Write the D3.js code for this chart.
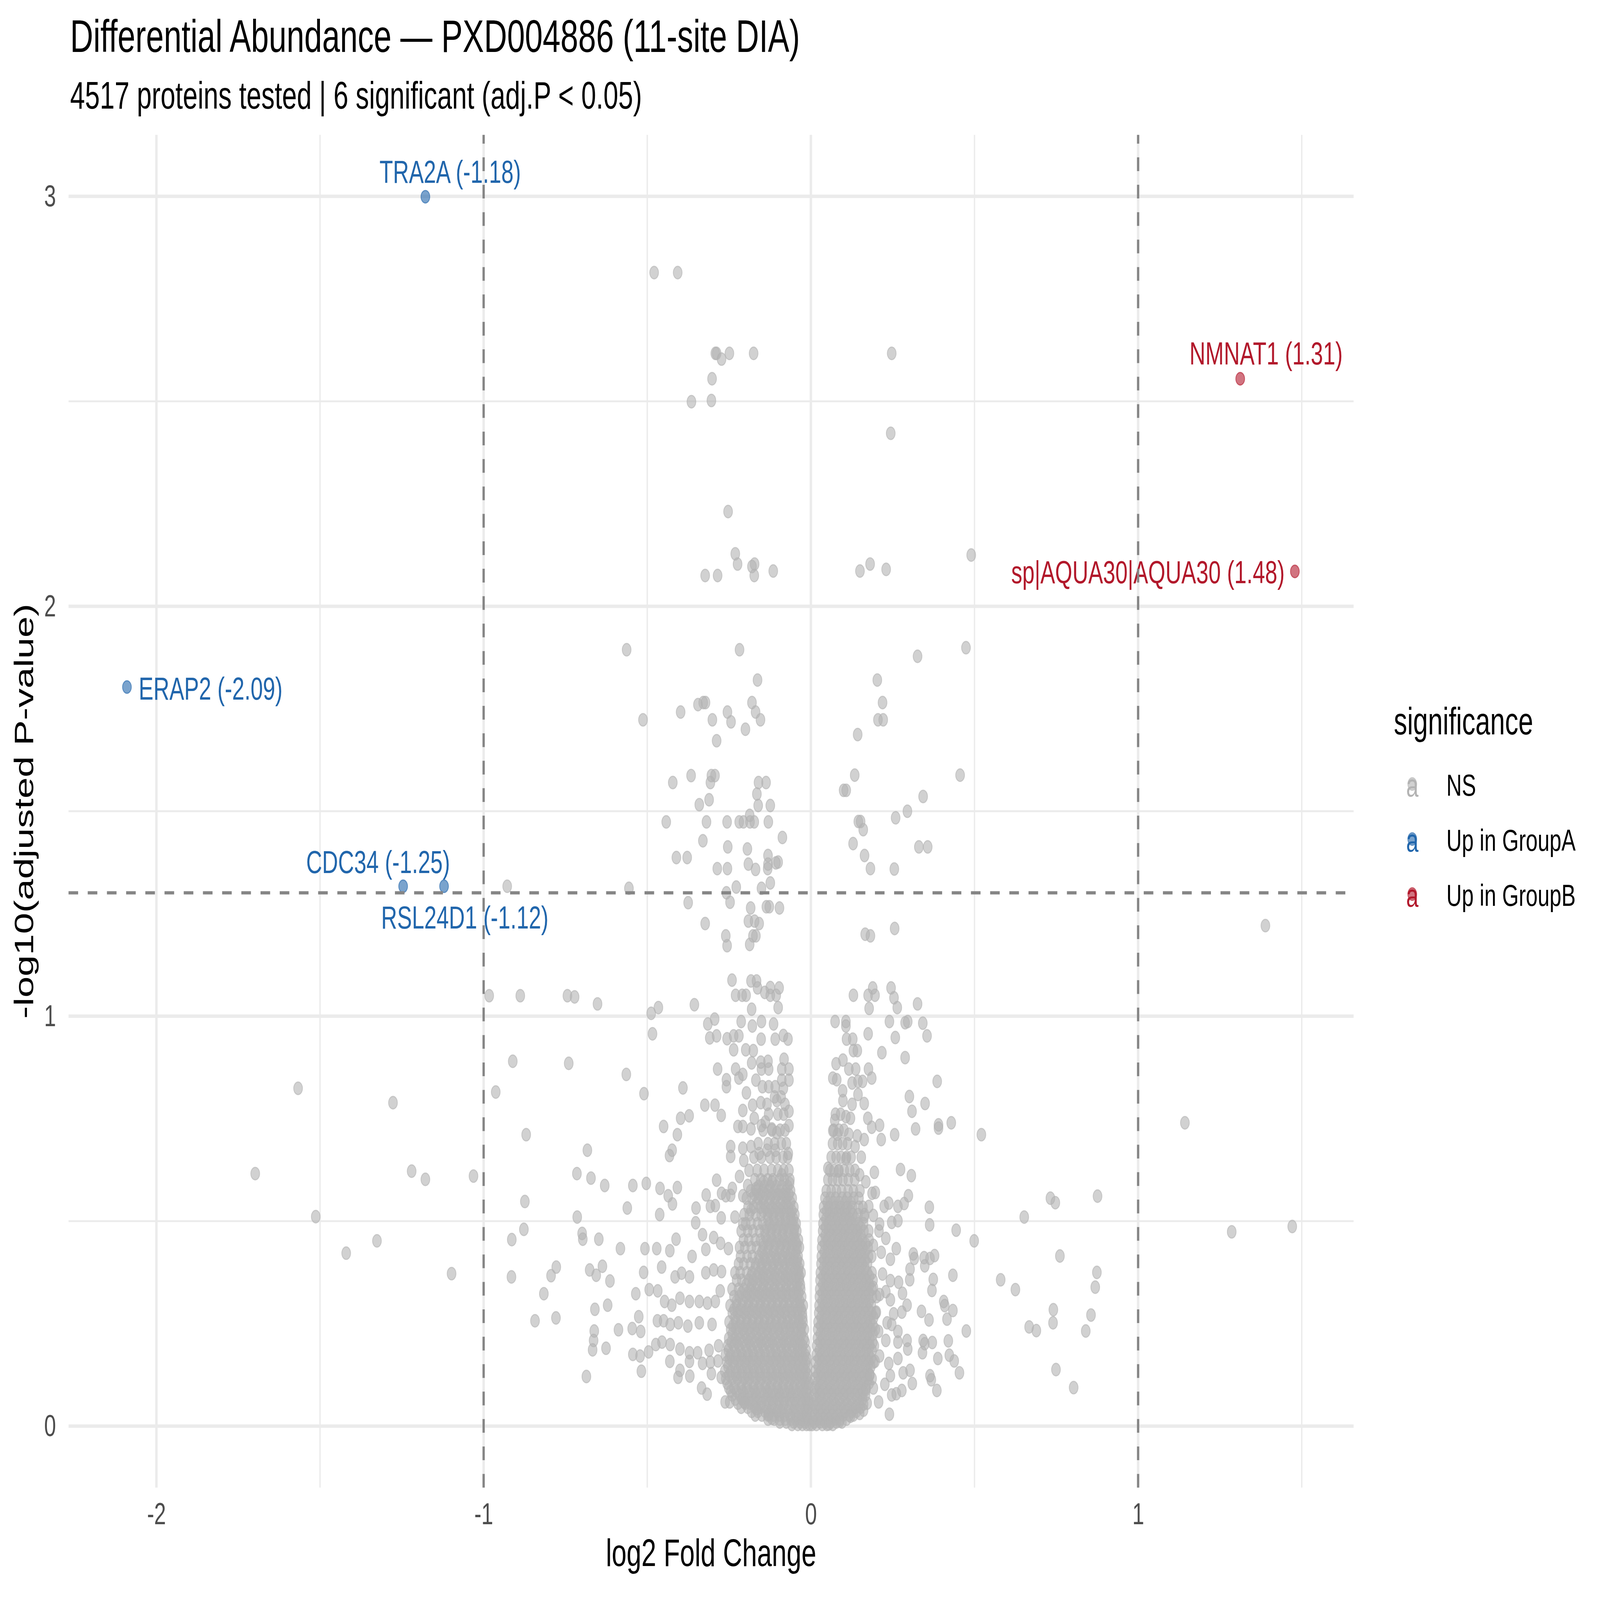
<!DOCTYPE html>
<html lang="en">
	<head>
		<meta charset="utf-8">
		<title>Differential Abundance volcano</title>
		<script type="text/javascript" src="https://cdn.jsdelivr.net/npm/d3@7"></script>
		<style type="text/css">
			html, body { margin: 0; padding: 0; background: #ffffff; overflow: hidden; }
			svg { display: block; }
			text { font-family: "Liberation Sans", Arial, sans-serif; }
		</style>
	</head>

	<body>
		<script type="text/javascript">
			/* significant proteins: name, log2FC, -log10(adj.P), group */
			var sigGenes = ["TRA2A", "ERAP2", "CDC34", "RSL24D1", "NMNAT1", "sp|AQUA30|AQUA30"];
			var sigFC = [-1.178, -2.090, -1.246, -1.121, 1.312, 1.479];
			var sigP = [2.999, 1.803, 1.317, 1.317, 2.555, 2.085];
			var sigGroup = ["Up in GroupA", "Up in GroupA", "Up in GroupA", "Up in GroupA", "Up in GroupB", "Up in GroupB"];

			/* legend categories */
			var categories = ["NS", "Up in GroupA", "Up in GroupB"];

			/* axis ticks */
			var xTicks = [-2, -1, 0, 1];
			var xMinor = [-1.5, -0.5, 0.5, 1.5];
			var yTicks = [0, 1, 2, 3];
			var yMinor = [0.5, 1.5, 2.5];

			/* non-significant proteins: [log2FC, -log10(adj.P)] */
			var nsPoints = [
				[-0.479,2.814],[-0.407,2.814],
				[-0.292,2.617],[-0.288,2.617],[-0.273,2.603],[-0.249,2.617],[-0.175,2.617],[0.247,2.617],
				[-0.302,2.555],[-0.365,2.499],[-0.304,2.502],[0.244,2.422],[-0.253,2.231],
				[-0.231,2.128],[-0.224,2.103],[-0.172,2.103],[-0.180,2.097],[-0.173,2.075],[-0.323,2.075],[-0.285,2.075],[-0.115,2.086],
				[0.150,2.086],[0.181,2.103],[0.230,2.090],[0.490,2.125],
				[-0.563,1.894],[-0.218,1.894],[-0.163,1.820],[0.474,1.899],[0.326,1.878],[0.203,1.820],[0.219,1.765],[0.205,1.723],[0.221,1.723],[0.143,1.687],
				[-0.180,1.765],[-0.169,1.742],[-0.154,1.723],[-0.200,1.700],[-0.255,1.742],[-0.244,1.718],[-0.301,1.723],[-0.288,1.672],
				[-0.345,1.760],[-0.329,1.765],[-0.322,1.765],[-0.398,1.742],[-0.513,1.723],
				[-0.422,1.570],[-0.366,1.587],[-0.304,1.587],[-0.293,1.587],[-0.307,1.570],[-0.311,1.528],[-0.341,1.516],
				[-0.160,1.570],[-0.137,1.570],[-0.165,1.542],[-0.161,1.514],[-0.124,1.514],[-0.187,1.490],
				[-0.442,1.474],[-0.319,1.474],[-0.256,1.474],[-0.219,1.474],[-0.206,1.474],[-0.186,1.474],[-0.173,1.474],[-0.130,1.474],
				[-0.087,1.436],[-0.330,1.428],[-0.254,1.413],[-0.194,1.408],[-0.411,1.387],[-0.378,1.387],[-0.191,1.371],
				[-0.131,1.392],[-0.131,1.371],[-0.132,1.360],[-0.107,1.374],[-0.100,1.376],[-0.286,1.360],[-0.255,1.360],[-0.169,1.358],
				[0.134,1.588],[0.100,1.551],[0.108,1.551],[0.456,1.588],[0.343,1.536],[0.295,1.500],[0.259,1.484],[0.145,1.475],[0.152,1.475],
				[0.160,1.455],[0.129,1.421],[0.164,1.392],[0.330,1.413],[0.357,1.413],[0.182,1.360],[0.255,1.359],
				[-0.556,1.312],[-0.228,1.315],[-0.151,1.312],[-0.124,1.325],[-0.258,1.301],[-0.375,1.277],[-0.247,1.278],[-0.928,1.317],
				[-0.184,1.264],[-0.136,1.267],[-0.127,1.267],[-0.096,1.264],[-0.323,1.226],[-0.191,1.232],[-0.172,1.232],[-0.158,1.226],
				[-0.260,1.196],[-0.177,1.196],[-0.168,1.196],[-0.256,1.172],[-0.187,1.175],[0.166,1.200],[0.182,1.196],[0.256,1.214],
				[-0.983,1.050],[-0.888,1.050],[-0.744,1.050],[-0.911,0.890],[-0.740,0.885],[-0.963,0.815],[-0.870,0.711],
				[-1.567,0.824],[-1.277,0.789],[-1.698,0.616],[-1.220,0.622],[-1.178,0.602],[-1.031,0.610],[-1.513,0.511],[-1.326,0.452],
				[-1.420,0.422],[-1.098,0.372],
				[-0.874,0.548],[-0.877,0.480],[-0.914,0.455],[-0.915,0.364],[-0.778,0.388],[-0.794,0.367],[-0.816,0.323],[-0.843,0.257],[-0.779,0.264],
				[1.389,1.221],[1.143,0.740],[1.286,0.474],[1.471,0.487],[0.732,0.556],[0.747,0.545],[0.876,0.561],[0.761,0.415],[0.874,0.375],
				[0.869,0.339],[0.741,0.284],[0.740,0.252],[0.856,0.271],[0.840,0.232],[0.749,0.138],[0.803,0.094],
				[-0.722,1.047],[-0.652,1.030],[-0.488,1.007],[-0.466,1.021],[-0.356,1.028],[-0.484,0.957],
				[-0.241,1.088],[-0.183,1.086],[-0.166,1.086],[-0.163,1.069],[-0.124,1.070],[-0.097,1.069],[-0.230,1.051],[-0.210,1.051],
				[-0.198,1.051],[-0.141,1.058],[-0.124,1.051],[-0.106,1.051],[-0.100,1.021],[-0.181,1.017],
				[-0.315,0.981],[-0.294,0.993],[-0.213,0.987],[-0.179,0.976],[-0.151,0.987],[-0.114,0.981],
				[-0.309,0.947],[-0.288,0.952],[-0.256,0.945],[-0.236,0.952],[-0.220,0.952],[-0.152,0.944],[-0.109,0.944],[-0.084,0.953],[-0.070,0.944],
				[-0.236,0.918],[-0.199,0.918],[-0.176,0.916],[-0.181,0.886],[-0.153,0.888],[-0.131,0.890],[-0.082,0.895],
				[-0.285,0.871],[-0.230,0.871],[-0.208,0.858],[-0.220,0.849],[-0.258,0.845],[-0.258,0.828],[-0.151,0.871],[-0.129,0.871],
				[-0.089,0.871],[-0.067,0.871],[-0.168,0.844],[-0.089,0.844],[-0.067,0.844],
				[-0.564,0.858],[-0.510,0.811],[-0.391,0.825],[-0.197,0.813],[-0.148,0.828],[-0.129,0.828],[-0.109,0.828],[-0.084,0.824],
				[-0.324,0.783],[-0.293,0.783],[-0.274,0.758],[-0.208,0.770],[-0.178,0.783],[-0.153,0.789],[-0.134,0.785],[-0.104,0.794],
				[-0.079,0.785],[-0.067,0.768],
				[-0.450,0.731],[-0.398,0.751],[-0.372,0.757],[-0.408,0.711],[-0.223,0.731],[-0.208,0.731],[-0.173,0.751],[-0.183,0.725],
				[-0.151,0.733],[-0.139,0.742],[-0.119,0.725],[-0.104,0.716],[-0.067,0.733],
				[-0.683,0.673],[-0.424,0.673],[-0.432,0.660],[-0.245,0.682],[-0.245,0.658],[-0.205,0.648],[-0.208,0.678],[-0.183,0.682],
				[-0.158,0.665],[-0.134,0.673],[-0.109,0.673],[-0.069,0.665],
				[-0.715,0.616],[-0.672,0.605],[-0.630,0.587],[-0.544,0.587],[-0.503,0.592],[-0.461,0.580],[-0.436,0.562],[-0.408,0.582],
				[-0.423,0.542],[-0.561,0.532],[-0.462,0.516],
				[-0.288,0.600],[-0.273,0.568],[-0.260,0.562],[-0.245,0.563],[-0.240,0.580],[-0.218,0.609],[-0.208,0.562],[-0.193,0.587],
				[-0.168,0.579],[-0.144,0.596],[-0.119,0.596],[-0.089,0.613],[-0.065,0.592],
				[-0.320,0.564],[-0.307,0.536],[-0.292,0.538],[-0.274,0.508],[-0.351,0.532],[-0.352,0.496],[-0.232,0.510],[-0.208,0.493],[-0.183,0.527],
				[-0.714,0.510],[-0.699,0.470],[-0.697,0.456],[-0.648,0.456],[-0.582,0.433],[-0.507,0.433],[-0.471,0.433],[-0.431,0.428],
				[-0.412,0.456],[-0.331,0.467],[-0.297,0.460],[-0.276,0.446],[-0.363,0.414],[-0.321,0.431],[-0.252,0.433],
				[-0.676,0.381],[-0.656,0.368],[-0.637,0.390],[-0.614,0.354],[-0.511,0.375],[-0.456,0.388],[-0.415,0.364],[-0.395,0.373],
				[-0.371,0.364],[-0.321,0.374],[-0.297,0.381],[-0.273,0.377],
				[-0.535,0.323],[-0.494,0.333],[-0.468,0.330],[-0.447,0.304],[-0.425,0.295],[-0.400,0.312],[-0.371,0.304],[-0.341,0.304],
				[-0.316,0.300],[-0.292,0.304],[-0.277,0.330],
				[-0.660,0.285],[-0.621,0.295],[-0.526,0.267],[-0.469,0.257],[-0.450,0.257],[-0.430,0.248],[-0.405,0.252],[-0.376,0.244],
				[-0.341,0.252],[-0.302,0.248],
				[-0.662,0.232],[-0.588,0.235],[-0.546,0.238],[-0.520,0.231],[-0.664,0.209],[-0.667,0.186],[-0.626,0.190],[-0.544,0.175],
				[-0.522,0.171],[-0.496,0.181],[-0.474,0.199],[-0.455,0.205],[-0.430,0.199],[-0.400,0.188],[-0.371,0.179],[-0.346,0.179],
				[-0.311,0.185],[-0.282,0.196],
				[-0.431,0.158],[-0.400,0.136],[-0.371,0.158],[-0.331,0.153],[-0.307,0.156],[-0.284,0.159],
				[-0.686,0.121],[-0.518,0.134],[-0.406,0.119],[-0.370,0.122],[-0.304,0.128],[-0.274,0.119],[-0.334,0.093],[-0.317,0.078],
				[-0.262,0.059],[-0.248,0.059],[-0.204,0.059],[-0.166,0.042],[-0.129,0.029],[-0.119,0.019],
				[0.130,1.051],[0.175,1.051],[0.189,1.069],[0.196,1.051],[0.178,1.019],[0.245,1.069],[0.254,1.045],[0.264,1.021],[0.326,1.030],
				[0.074,0.987],[0.107,0.987],[0.107,0.976],[0.175,0.957],[0.240,0.987],[0.288,0.984],[0.296,0.987],[0.342,0.983],[0.355,0.952],[0.258,0.948],
				[0.109,0.944],[0.128,0.944],[0.130,0.916],[0.142,0.916],[0.217,0.911],[0.288,0.899],[0.077,0.884],[0.098,0.893],[0.116,0.871],
				[0.137,0.871],[0.176,0.871],
				[0.067,0.849],[0.079,0.845],[0.186,0.849],[0.126,0.837],[0.144,0.841],[0.158,0.841],[0.386,0.841],[0.097,0.818],[0.144,0.809],
				[0.163,0.787],[0.098,0.794],[0.126,0.785],[0.301,0.804],[0.349,0.787],[0.309,0.768],
				[0.073,0.746],[0.107,0.755],[0.121,0.751],[0.174,0.751],[0.186,0.729],[0.210,0.734],[0.320,0.725],[0.390,0.735],[0.390,0.727],
				[0.429,0.740],[0.521,0.711],[0.256,0.711],
				[0.067,0.721],[0.081,0.712],[0.116,0.712],[0.142,0.708],[0.163,0.699],[0.215,0.699],[0.135,0.682],[0.154,0.656],[0.107,0.652],
				[0.052,0.629],[0.274,0.626],[0.307,0.611],[0.194,0.619],[0.084,0.622],[0.149,0.613],[0.168,0.596],[0.187,0.568],[0.197,0.570],
				[0.285,0.543],[0.298,0.562],[0.224,0.536],[0.238,0.544],[0.266,0.536],[0.362,0.534],[0.363,0.491],[0.444,0.478],[0.499,0.452],[0.652,0.510],
				[0.177,0.536],[0.163,0.510],[0.191,0.514],[0.210,0.493],[0.247,0.497],[0.266,0.501],[0.208,0.476],[0.229,0.458],[0.191,0.441],
				[0.261,0.433],[0.215,0.424],[0.243,0.407],[0.313,0.420],[0.316,0.409],[0.346,0.411],[0.364,0.409],[0.378,0.416],[0.348,0.391],
				[0.303,0.383],[0.302,0.357],[0.219,0.371],[0.243,0.355],[0.268,0.351],[0.374,0.358],[0.370,0.331],[0.434,0.368],[0.580,0.357],[0.625,0.333],
				[0.191,0.338],[0.210,0.321],[0.229,0.328],[0.243,0.308],[0.280,0.324],[0.294,0.295],[0.406,0.304],[0.409,0.294],[0.434,0.282],
				[0.338,0.280],[0.361,0.259],[0.416,0.261],[0.278,0.278],[0.253,0.274],[0.200,0.278],[0.233,0.252],[0.247,0.248],[0.266,0.231],
				[0.207,0.231],[0.475,0.232],[0.667,0.242],[0.689,0.233],
				[0.229,0.209],[0.266,0.205],[0.294,0.209],[0.296,0.188],[0.343,0.209],[0.348,0.201],[0.371,0.204],[0.420,0.208],[0.341,0.179],
				[0.266,0.165],[0.388,0.165],[0.423,0.173],[0.438,0.159],[0.196,0.158],[0.210,0.171],[0.238,0.153],
				[0.454,0.130],[0.282,0.130],[0.303,0.136],[0.364,0.123],[0.368,0.113],[0.385,0.087],[0.310,0.104],[0.278,0.087],[0.243,0.123],
				[0.226,0.102],[0.247,0.076],[0.261,0.079],[0.180,0.125],[0.191,0.093],[0.168,0.089],[0.172,0.056],[0.207,0.059],[0.240,0.029],
				[0.161,0.039],[0.149,0.031],[0.121,0.024],[0.088,0.012],[0.055,0.005]
			];

			/* the packed core of the volcano, read row by row: [-log10(adj.P), [log2FC ...]] */
			var coreLeftRows = [
				[0.004, [-0.058,-0.040,-0.026,-0.013,-0.004]],
				[0.017, [-0.131,-0.112,-0.095,-0.079,-0.061,-0.047,-0.030,-0.019,-0.008]],
				[0.036, [-0.181,-0.162,-0.140,-0.125,-0.104,-0.091,-0.072,-0.053,-0.039,-0.021,-0.010]],
				[0.056, [-0.223,-0.201,-0.186,-0.166,-0.150,-0.129,-0.115,-0.096,-0.081,-0.060,-0.046,-0.027,-0.014,-0.004]],
				[0.076, [-0.240,-0.218,-0.202,-0.181,-0.166,-0.145,-0.129,-0.109,-0.094,-0.074,-0.059,-0.041,-0.023,-0.011]],
				[0.094, [-0.251,-0.235,-0.213,-0.197,-0.176,-0.161,-0.140,-0.125,-0.104,-0.088,-0.068,-0.053,-0.034,-0.020,-0.008]],
				[0.116, [-0.260,-0.240,-0.224,-0.203,-0.188,-0.167,-0.151,-0.131,-0.115,-0.095,-0.079,-0.060,-0.044,-0.026,-0.013]],
				[0.134, [-0.263,-0.245,-0.225,-0.209,-0.189,-0.173,-0.154,-0.138,-0.118,-0.102,-0.082,-0.067,-0.048,-0.033,-0.016]],
				[0.156, [-0.257,-0.239,-0.223,-0.203,-0.187,-0.167,-0.151,-0.131,-0.115,-0.095,-0.080,-0.060,-0.045,-0.027,-0.015]],
				[0.174, [-0.261,-0.245,-0.225,-0.210,-0.190,-0.174,-0.154,-0.138,-0.118,-0.102,-0.083,-0.068,-0.049,-0.035,-0.018]],
				[0.196, [-0.254,-0.236,-0.220,-0.200,-0.184,-0.164,-0.148,-0.128,-0.112,-0.092,-0.077,-0.057,-0.042,-0.025]],
				[0.214, [-0.251,-0.231,-0.215,-0.195,-0.179,-0.159,-0.143,-0.123,-0.107,-0.087,-0.071,-0.052,-0.037,-0.021]],
				[0.236, [-0.245,-0.229,-0.209,-0.193,-0.173,-0.157,-0.137,-0.121,-0.101,-0.085,-0.065,-0.050,-0.031,-0.020]],
				[0.254, [-0.250,-0.230,-0.214,-0.194,-0.178,-0.158,-0.142,-0.122,-0.106,-0.086,-0.070,-0.051,-0.037,-0.024]],
				[0.276, [-0.240,-0.224,-0.204,-0.188,-0.168,-0.152,-0.132,-0.116,-0.096,-0.080,-0.060,-0.045,-0.026]],
				[0.294, [-0.247,-0.227,-0.211,-0.191,-0.175,-0.155,-0.139,-0.119,-0.103,-0.083,-0.067,-0.048,-0.034,-0.023]],
				[0.316, [-0.235,-0.219,-0.199,-0.183,-0.163,-0.147,-0.127,-0.111,-0.091,-0.075,-0.056,-0.041,-0.028]],
				[0.334, [-0.241,-0.221,-0.205,-0.185,-0.169,-0.149,-0.133,-0.113,-0.097,-0.077,-0.061,-0.043,-0.031]],
				[0.356, [-0.227,-0.211,-0.191,-0.175,-0.155,-0.139,-0.119,-0.103,-0.083,-0.068,-0.049,-0.035]],
				[0.374, [-0.232,-0.216,-0.196,-0.180,-0.160,-0.144,-0.124,-0.108,-0.088,-0.072,-0.053,-0.039,-0.030]],
				[0.396, [-0.221,-0.205,-0.185,-0.169,-0.149,-0.133,-0.113,-0.097,-0.077,-0.062,-0.044,-0.034]],
				[0.414, [-0.215,-0.195,-0.179,-0.159,-0.143,-0.123,-0.107,-0.087,-0.071,-0.052,-0.039]],
				[0.436, [-0.218,-0.202,-0.182,-0.166,-0.146,-0.130,-0.110,-0.094,-0.074,-0.059,-0.042,-0.035]],
				[0.454, [-0.206,-0.190,-0.170,-0.154,-0.134,-0.118,-0.098,-0.082,-0.063,-0.048,-0.038]],
				[0.476, [-0.213,-0.193,-0.177,-0.157,-0.141,-0.121,-0.105,-0.085,-0.070,-0.051,-0.043]],
				[0.494, [-0.199,-0.183,-0.163,-0.147,-0.127,-0.111,-0.091,-0.076,-0.057,-0.045]],
				[0.516, [-0.204,-0.188,-0.168,-0.152,-0.132,-0.116,-0.096,-0.081,-0.062,-0.049]],
				[0.534, [-0.192,-0.175,-0.155,-0.139,-0.119,-0.103,-0.084,-0.069,-0.052]],
				[0.556, [-0.197,-0.180,-0.160,-0.144,-0.124,-0.109,-0.089,-0.074,-0.057]],
				[0.574, [-0.184,-0.167,-0.147,-0.131,-0.112,-0.096,-0.077,-0.062]],
				[0.601, [-0.171,-0.153,-0.132,-0.116,-0.096,-0.081,-0.064]],
				[0.624, [-0.189,-0.164,-0.143,-0.120,-0.101,-0.083,-0.067]],
				[0.656, [-0.174,-0.151,-0.125,-0.106,-0.085,-0.071]],
				[0.689, [-0.161,-0.131,-0.111,-0.090,-0.075]],
				[0.722, [-0.146,-0.119,-0.094,-0.079]],
				[0.761, [-0.129,-0.101,-0.083]],
				[0.803, [-0.111,-0.091]]
			];
			var coreLeftFill = [
				[0.010, [-0.095,-0.075,-0.052,-0.033,-0.017]],
				[0.027, [-0.170,-0.150,-0.131,-0.114,-0.097,-0.080,-0.064,-0.045,-0.027,-0.012]],
				[0.046, [-0.213,-0.193,-0.172,-0.153,-0.137,-0.119,-0.101,-0.085,-0.067,-0.049,-0.033,-0.018,-0.007]],
				[0.066, [-0.231,-0.211,-0.192,-0.174,-0.156,-0.138,-0.120,-0.102,-0.084,-0.066,-0.050,-0.032,-0.017,-0.006]],
				[0.085, [-0.245,-0.227,-0.208,-0.188,-0.171,-0.152,-0.133,-0.116,-0.098,-0.080,-0.063,-0.045,-0.028,-0.014]],
				[0.105, [-0.256,-0.231,-0.212,-0.193,-0.174,-0.156,-0.137,-0.119,-0.101,-0.084,-0.066,-0.049,-0.032,-0.017,-0.006]],
				[0.125, [-0.250,-0.231,-0.213,-0.194,-0.177,-0.158,-0.140,-0.122,-0.105,-0.087,-0.070,-0.053,-0.036,-0.021,-0.009]],
				[0.145, [-0.253,-0.233,-0.214,-0.196,-0.178,-0.160,-0.142,-0.124,-0.106,-0.089,-0.072,-0.055,-0.038,-0.022,-0.010]],
				[0.165, [-0.249,-0.231,-0.213,-0.195,-0.177,-0.159,-0.141,-0.123,-0.106,-0.089,-0.072,-0.055,-0.039,-0.024,-0.012]],
				[0.185, [-0.252,-0.232,-0.214,-0.196,-0.178,-0.160,-0.142,-0.124,-0.107,-0.090,-0.073,-0.056,-0.040,-0.027,-0.015]],
				[0.205, [-0.243,-0.226,-0.207,-0.189,-0.171,-0.153,-0.135,-0.118,-0.100,-0.083,-0.066,-0.049,-0.033,-0.018]],
				[0.225, [-0.240,-0.221,-0.203,-0.185,-0.167,-0.149,-0.131,-0.113,-0.095,-0.078,-0.061,-0.044,-0.029]],
				[0.245, [-0.238,-0.219,-0.201,-0.183,-0.165,-0.147,-0.129,-0.111,-0.094,-0.077,-0.060,-0.043,-0.028]],
				[0.265, [-0.232,-0.214,-0.196,-0.178,-0.160,-0.142,-0.124,-0.107,-0.089,-0.072,-0.055,-0.038,-0.025]],
				[0.285, [-0.235,-0.216,-0.198,-0.180,-0.162,-0.144,-0.126,-0.109,-0.091,-0.074,-0.057,-0.040,-0.029]],
				[0.305, [-0.227,-0.208,-0.190,-0.172,-0.154,-0.137,-0.119,-0.101,-0.084,-0.066,-0.049,-0.034]],
				[0.325, [-0.212,-0.193,-0.175,-0.157,-0.139,-0.122,-0.104,-0.087,-0.069,-0.052,-0.037]],
				[0.345, [-0.198,-0.181,-0.163,-0.145,-0.127,-0.110,-0.092,-0.075,-0.058,-0.042,-0.032]],
				[0.365, [-0.183,-0.165,-0.147,-0.130,-0.112,-0.094,-0.077,-0.060,-0.045,-0.035]],
				[0.385, [-0.170,-0.152,-0.135,-0.117,-0.099,-0.082,-0.065,-0.049,-0.037]],
				[0.405, [-0.158,-0.140,-0.122,-0.104,-0.087,-0.070,-0.054,-0.041]],
				[0.425, [-0.150,-0.132,-0.114,-0.096,-0.079,-0.062,-0.046]],
				[0.445, [-0.145,-0.126,-0.108,-0.090,-0.072,-0.055,-0.044]],
				[0.465, [-0.140,-0.122,-0.104,-0.087,-0.069,-0.052]],
				[0.485, [-0.136,-0.118,-0.100,-0.083,-0.066,-0.050]],
				[0.505, [-0.131,-0.113,-0.095,-0.078,-0.061,-0.053]],
				[0.525, [-0.145,-0.127,-0.109,-0.091,-0.074,-0.058]],
				[0.545, [-0.165,-0.146,-0.128,-0.110,-0.093,-0.076,-0.062]],
				[0.565, [-0.172,-0.155,-0.137,-0.119,-0.101,-0.084,-0.067]],
				[0.585, [-0.160,-0.142,-0.124,-0.106,-0.089,-0.071]]
			];
			var coreRightRows = [
				[0.004, [0.004,0.017,0.035,0.049,0.067]],
				[0.017, [0.007,0.021,0.039,0.054,0.073,0.089,0.109]],
				[0.036, [0.004,0.021,0.036,0.055,0.070,0.090,0.105,0.125,0.139]],
				[0.054, [0.007,0.022,0.041,0.057,0.076,0.092,0.112,0.128,0.148,0.161]],
				[0.076, [0.009,0.026,0.042,0.062,0.078,0.098,0.114,0.134,0.150,0.167]],
				[0.094, [0.011,0.026,0.046,0.062,0.082,0.098,0.118,0.134,0.154,0.169]],
				[0.116, [0.012,0.030,0.046,0.066,0.082,0.102,0.118,0.138,0.154,0.174,0.187]],
				[0.134, [0.014,0.030,0.050,0.066,0.086,0.102,0.122,0.138,0.158,0.174]],
				[0.156, [0.015,0.033,0.049,0.069,0.085,0.105,0.121,0.141,0.157,0.177,0.191]],
				[0.174, [0.017,0.033,0.053,0.069,0.089,0.105,0.125,0.141,0.161,0.177]],
				[0.196, [0.018,0.036,0.052,0.072,0.088,0.108,0.124,0.144,0.160,0.180,0.194]],
				[0.214, [0.020,0.036,0.056,0.072,0.092,0.108,0.128,0.144,0.164,0.180]],
				[0.236, [0.021,0.039,0.055,0.075,0.091,0.111,0.127,0.147,0.163,0.183,0.197]],
				[0.254, [0.022,0.038,0.058,0.074,0.094,0.110,0.130,0.146,0.166,0.182]],
				[0.276, [0.024,0.042,0.058,0.078,0.094,0.114,0.130,0.150,0.166,0.186,0.198]],
				[0.294, [0.025,0.041,0.061,0.077,0.097,0.113,0.133,0.149,0.169,0.185]],
				[0.316, [0.026,0.044,0.060,0.080,0.096,0.116,0.132,0.152,0.168,0.188,0.201]],
				[0.334, [0.027,0.043,0.063,0.079,0.099,0.115,0.135,0.151,0.171,0.187]],
				[0.356, [0.028,0.046,0.062,0.082,0.098,0.118,0.134,0.154,0.170,0.190]],
				[0.374, [0.029,0.045,0.065,0.081,0.101,0.117,0.137,0.153,0.173,0.187]],
				[0.396, [0.031,0.049,0.065,0.085,0.101,0.121,0.137,0.157,0.173]],
				[0.414, [0.032,0.048,0.068,0.084,0.104,0.120,0.140,0.156,0.176,0.186]],
				[0.436, [0.033,0.051,0.067,0.087,0.103,0.123,0.139,0.159,0.175]],
				[0.454, [0.034,0.050,0.070,0.086,0.106,0.122,0.142,0.158,0.178]],
				[0.476, [0.036,0.054,0.070,0.090,0.106,0.126,0.142,0.162,0.177]],
				[0.494, [0.037,0.053,0.073,0.089,0.109,0.125,0.145,0.161]],
				[0.516, [0.038,0.056,0.072,0.092,0.108,0.128,0.144,0.164]],
				[0.534, [0.039,0.055,0.075,0.091,0.111,0.127,0.147,0.159]],
				[0.556, [0.043,0.059,0.075,0.095,0.111,0.131,0.147]],
				[0.574, [0.047,0.062,0.078,0.094,0.114,0.130,0.150]],
				[0.601, [0.052,0.066,0.082,0.098,0.114,0.134]],
				[0.624, [0.058,0.071,0.086,0.102,0.119,0.135]],
				[0.656, [0.062,0.077,0.092,0.109,0.123]],
				[0.689, [0.066,0.082,0.097,0.112]],
				[0.722, [0.070,0.086,0.101]],
				[0.761, [0.075,0.091]]
			];
			var coreRightFill = [
				[0.010, [0.010,0.028,0.043,0.060,0.078,0.095]],
				[0.027, [0.012,0.029,0.046,0.063,0.081,0.099,0.117,0.130]],
				[0.046, [0.014,0.031,0.048,0.066,0.083,0.101,0.119,0.137,0.152]],
				[0.066, [0.016,0.033,0.051,0.069,0.087,0.105,0.123,0.141,0.158]],
				[0.085, [0.018,0.035,0.053,0.071,0.089,0.107,0.125,0.143,0.160]],
				[0.105, [0.019,0.037,0.055,0.073,0.091,0.109,0.127,0.145,0.162,0.178]],
				[0.125, [0.021,0.039,0.057,0.075,0.093,0.111,0.129,0.147,0.165,0.180]],
				[0.145, [0.023,0.041,0.059,0.077,0.095,0.113,0.131,0.149,0.167,0.183]],
				[0.165, [0.025,0.043,0.061,0.079,0.097,0.115,0.133,0.151,0.169,0.184]],
				[0.185, [0.026,0.044,0.062,0.080,0.098,0.116,0.134,0.152,0.170,0.187]],
				[0.205, [0.028,0.046,0.064,0.082,0.100,0.118,0.136,0.154,0.172,0.189]],
				[0.225, [0.029,0.047,0.065,0.083,0.101,0.119,0.137,0.155,0.173,0.190]],
				[0.245, [0.030,0.048,0.066,0.084,0.102,0.120,0.138,0.156,0.174,0.190]],
				[0.265, [0.031,0.049,0.067,0.085,0.103,0.121,0.139,0.157,0.175,0.192]],
				[0.285, [0.033,0.051,0.069,0.087,0.105,0.123,0.141,0.159,0.177]],
				[0.305, [0.034,0.052,0.070,0.088,0.106,0.124,0.142,0.160,0.178]],
				[0.325, [0.035,0.053,0.071,0.089,0.107,0.125,0.143,0.161,0.178]],
				[0.345, [0.036,0.054,0.072,0.090,0.108,0.126,0.144,0.162,0.179]],
				[0.365, [0.037,0.055,0.073,0.091,0.109,0.127,0.145,0.163,0.179]],
				[0.385, [0.039,0.057,0.075,0.093,0.111,0.129,0.147,0.165]],
				[0.405, [0.040,0.058,0.076,0.094,0.112,0.130,0.148,0.166]],
				[0.425, [0.041,0.059,0.077,0.095,0.113,0.131,0.149,0.166]],
				[0.445, [0.042,0.060,0.078,0.096,0.114,0.132,0.150,0.167]],
				[0.465, [0.044,0.062,0.080,0.098,0.116,0.134,0.152]],
				[0.485, [0.045,0.063,0.081,0.099,0.117,0.135,0.152]],
				[0.505, [0.046,0.064,0.082,0.100,0.118,0.136]],
				[0.525, [0.048,0.066,0.084,0.102,0.120]],
				[0.545, [0.050,0.068,0.086,0.104,0.122]]
			];

			var colours = { "NS": "#B3B3B3", "Up in GroupA": "#2166AC", "Up in GroupB": "#B2182B" };

			/* where each repelled label sits relative to its point (px) */
			var labelNudge = [
				{ dx: 93, dy: -37, anchor: "middle" },
				{ dx: 44, dy: 33, anchor: "start" },
				{ dx: -94, dy: -35, anchor: "middle" },
				{ dx: 78, dy: 111, anchor: "middle" },
				{ dx: 97, dy: -38, anchor: "middle" },
				{ dx: -38, dy: 31, anchor: "end" }
			];

			var svgWidth = 6000;
			var svgHeight = 4200;
			var panel = { left: 257, right: 5076, top: 354, bottom: 3905 };

			/* drawn in a 6000x4200 coordinate box that fills the window */
			var svg = d3.select("body")
				.append("svg")
				.attr("viewBox", "0 0 " + svgWidth + " " + svgHeight)
				.attr("preserveAspectRatio", "none")
				.style("width", "100vw")
				.style("height", "100vh");

			svg.append("rect").attr("width", svgWidth).attr("height", svgHeight).attr("fill", "#ffffff");

			var x = d3.scaleLinear().domain([-2.2685, 1.6585]).range([panel.left, panel.right]);
			var y = d3.scaleLinear().domain([-0.15, 3.15]).range([panel.bottom, panel.top]);

			/* grid: minor first, then major */
			var grid = svg.append("g");
			grid.selectAll("line.vmin").data(xMinor).enter().append("line")
				.attr("x1", function(d) { return x(d); }).attr("x2", function(d) { return x(d); })
				.attr("y1", panel.top).attr("y2", panel.bottom)
				.attr("stroke", "#EBEBEB").attr("stroke-width", 5);
			grid.selectAll("line.hmin").data(yMinor).enter().append("line")
				.attr("y1", function(d) { return y(d); }).attr("y2", function(d) { return y(d); })
				.attr("x1", panel.left).attr("x2", panel.right)
				.attr("stroke", "#EBEBEB").attr("stroke-width", 5);
			grid.selectAll("line.vmaj").data(xTicks).enter().append("line")
				.attr("x1", function(d) { return x(d); }).attr("x2", function(d) { return x(d); })
				.attr("y1", panel.top).attr("y2", panel.bottom)
				.attr("stroke", "#EBEBEB").attr("stroke-width", 9);
			grid.selectAll("line.hmaj").data(yTicks).enter().append("line")
				.attr("y1", function(d) { return y(d); }).attr("y2", function(d) { return y(d); })
				.attr("x1", panel.left).attr("x2", panel.right)
				.attr("stroke", "#EBEBEB").attr("stroke-width", 9);

			/* points */
			var corePoints = [];
			coreLeftRows.concat(coreLeftFill, coreRightRows, coreRightFill).forEach(function(row) {
				row[1].forEach(function(fc) { corePoints.push([fc, row[0]]); });
			});
			var allNS = corePoints.concat(nsPoints);

			var pts = svg.append("g");
			pts.selectAll("circle.ns").data(allNS).enter().append("circle")
				.attr("cx", function(d) { return x(d[0]); })
				.attr("cy", function(d) { return y(d[1]); })
				.attr("r", 16.5)
				.attr("fill", colours["NS"]).attr("fill-opacity", 0.6)
				.attr("stroke", colours["NS"]).attr("stroke-opacity", 0.6).attr("stroke-width", 3);

			var sigIdx = d3.range(sigGenes.length);
			pts.selectAll("circle.sig").data(sigIdx).enter().append("circle")
				.attr("cx", function(i) { return x(sigFC[i]); })
				.attr("cy", function(i) { return y(sigP[i]); })
				.attr("r", 16.5)
				.attr("fill", function(i) { return colours[sigGroup[i]]; }).attr("fill-opacity", 0.6)
				.attr("stroke", function(i) { return colours[sigGroup[i]]; }).attr("stroke-opacity", 0.6).attr("stroke-width", 3);

			/* labels */
			svg.append("g").selectAll("text").data(sigIdx).enter().append("text")
				.text(function(i) { return sigGenes[i] + " (" + sigFC[i].toFixed(2) + ")"; })
				.attr("x", function(i) { return x(sigFC[i]) + labelNudge[i].dx; })
				.attr("y", function(i) { return y(sigP[i]) + labelNudge[i].dy; })
				.attr("text-anchor", function(i) { return labelNudge[i].anchor; })
				.attr("font-size", 83)
				.attr("fill", function(i) { return colours[sigGroup[i]]; });

			/* threshold lines */
			var ref = svg.append("g").attr("stroke", "#858585").attr("stroke-width", 8.5).attr("stroke-dasharray", "36,36");
			ref.selectAll("line.v").data([-1, 1]).enter().append("line")
				.attr("x1", function(d) { return x(d); }).attr("x2", function(d) { return x(d); })
				.attr("y1", panel.bottom).attr("y2", panel.top);
			ref.append("line")
				.attr("x1", panel.left).attr("x2", panel.right)
				.attr("y1", y(-Math.log10(0.05))).attr("y2", y(-Math.log10(0.05)));

			/* axes */
			var xAxis = svg.append("g")
				.attr("transform", "translate(0," + panel.bottom + ")")
				.call(d3.axisBottom(x).tickValues(xTicks).tickSize(0).tickPadding(39).tickFormat(d3.format("d")));
			var yAxis = svg.append("g")
				.attr("transform", "translate(" + panel.left + ",0)")
				.call(d3.axisLeft(y).tickValues(yTicks).tickSize(0).tickPadding(47).tickFormat(d3.format("d")));
			[xAxis, yAxis].forEach(function(a) {
				a.select(".domain").remove();
				a.selectAll("text")
					.attr("font-size", 80)
					.attr("font-family", "Liberation Sans, Arial, sans-serif")
					.attr("fill", "#4D4D4D");
			});
			xAxis.selectAll("text").text(function(d) { return d < 0 ? "-" + Math.abs(d) : d; });

			/* titles */
			svg.append("text").text("Differential Abundance \u2014 PXD004886 (11-site DIA)")
				.attr("x", 263).attr("y", 136).attr("font-size", 120).attr("fill", "#000000");
			svg.append("text").text("4517 proteins tested | 6 significant (adj.P < 0.05)")
				.attr("x", 263).attr("y", 285).attr("font-size", 100).attr("fill", "#000000");
			svg.append("text").text("log2 Fold Change")
				.attr("x", (panel.left + panel.right) / 2).attr("y", 4111)
				.attr("text-anchor", "middle").attr("font-size", 100).attr("fill", "#000000");
			svg.append("text").text("-log10(adjusted P-value)")
				.attr("transform", "translate(124," + ((panel.top + panel.bottom) / 2) + ") rotate(-90)")
				.attr("text-anchor", "middle").attr("font-size", 100).attr("fill", "#000000");

			/* legend */
			var legend = svg.append("g");
			legend.append("text").text("significance")
				.attr("x", 5227).attr("y", 1928).attr("font-size", 100).attr("fill", "#000000");
			var items = legend.selectAll("g.item").data(categories).enter().append("g")
				.attr("transform", function(d, i) { return "translate(0," + (2089 + i * 144.5) + ")"; });
			items.append("circle")
				.attr("cx", 5296).attr("cy", -31).attr("r", 16.5)
				.attr("fill", function(d) { return colours[d]; }).attr("fill-opacity", 0.6)
				.attr("stroke", function(d) { return colours[d]; }).attr("stroke-opacity", 0.6).attr("stroke-width", 3);
			items.append("text").text("a")
				.attr("x", 5296).attr("y", 2).attr("text-anchor", "middle")
				.attr("font-size", 83).attr("fill", function(d) { return colours[d]; });
			items.append("text").text(function(d) { return d; })
				.attr("x", 5424).attr("y", 0).attr("font-size", 80).attr("fill", "#000000");
		</script>
	</body>
</html>
